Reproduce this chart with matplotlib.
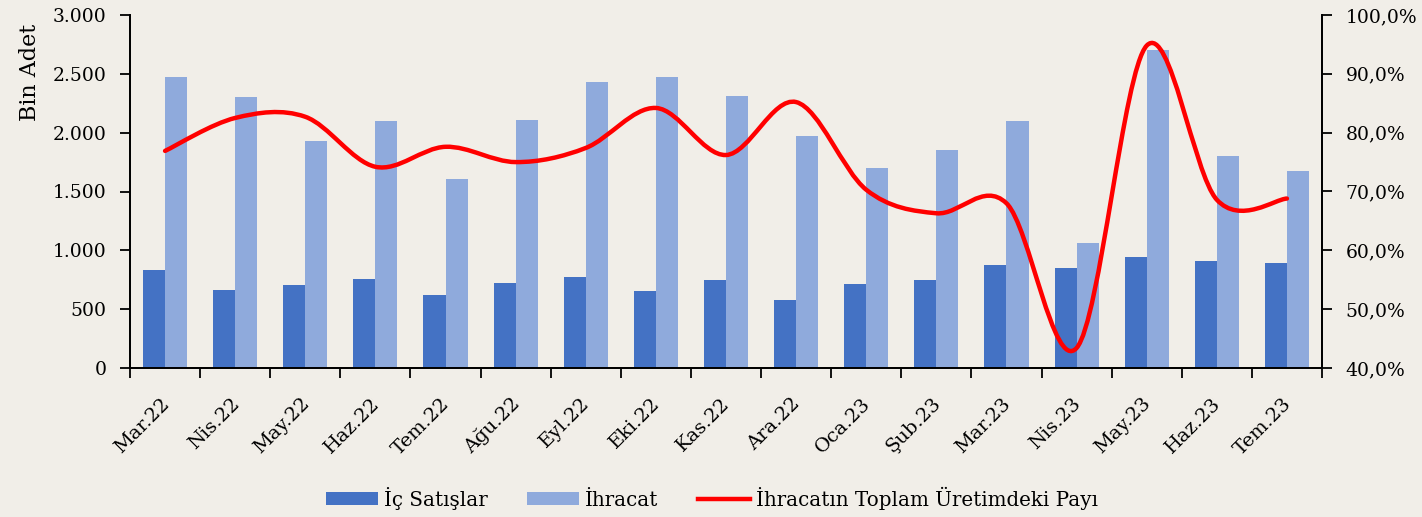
import matplotlib
matplotlib.use("Agg")
import matplotlib.pyplot as plt
import numpy as np
from matplotlib.path import Path
from matplotlib.patches import PathPatch, Patch
from matplotlib.lines import Line2D
from matplotlib.ticker import FuncFormatter, FixedLocator
from matplotlib.transforms import ScaledTranslation

months = ["Mar.22", "Nis.22", "May.22", "Haz.22", "Tem.22", "Ağu.22", "Eyl.22", "Eki.22",
          "Kas.22", "Ara.22", "Oca.23", "Şub.23", "Mar.23", "Nis.23", "May.23", "Haz.23", "Tem.23"]
ic_satislar = [830, 660, 705, 760, 620, 720, 770, 655, 750, 580, 714, 750, 878, 848, 943, 907, 890]
ihracat = [2470, 2300, 1925, 2100, 1605, 2105, 2430, 2470, 2315, 1968, 1698, 1853, 2097, 1062, 2705, 1799, 1671]
ihracat_payi = [76.9, 82.5, 82.7, 74.2, 77.6, 75.0, 77.4, 84.2, 76.2, 85.2, 70.3, 66.3, 68.0, 43.4, 94.8, 68.6, 68.8]

BG = "#F1EEE8"
DARK = "#4472C4"
LIGHT = "#8FAADC"
RED = "#FF0000"
FONT = "DejaVu Serif"

fig = plt.figure(figsize=(14.22, 5.17), dpi=100, facecolor=BG)
ax = fig.add_axes([130/1422, 1-368/517, 1192/1422, 353/517])
ax.set_facecolor(BG)
ax2 = ax.twinx()

x = np.arange(len(months))
w = 0.315
ax.bar(x - w/2, ic_satislar, width=w, color=DARK, zorder=2)
ax.bar(x + w/2, ihracat, width=w, color=LIGHT, zorder=2)

ax.set_xlim(-0.5, len(months) - 0.5)
ax.set_ylim(0, 3000)
ax.set_yticks(np.arange(0, 3001, 500))
ax.yaxis.set_major_formatter(FuncFormatter(lambda v, p: f"{int(v):,}".replace(",", ".")))

ax2.set_ylim(40, 100)
ax2.set_yticks(np.arange(40, 101, 10))
ax2.yaxis.set_major_formatter(FuncFormatter(lambda v, p: f"{v:.1f}".replace(".", ",") + "%"))

# smoothed line (Catmull-Rom as cubic Bezier)
pts = np.column_stack([x, ihracat_payi]).astype(float)
verts = [tuple(pts[0])]
codes = [Path.MOVETO]
n = len(pts)
for i in range(n - 1):
    p0 = pts[i - 1] if i > 0 else pts[i]
    p1 = pts[i]
    p2 = pts[i + 1]
    p3 = pts[i + 2] if i + 2 < n else pts[i + 1]
    c1 = p1 + (p2 - p0) / 6.0
    c2 = p2 - (p3 - p1) / 6.0
    verts += [tuple(c1), tuple(c2), tuple(p2)]
    codes += [Path.CURVE4] * 3
path = Path(verts, codes)
ax2.add_patch(PathPatch(path, facecolor="none", edgecolor=RED, lw=3.2, zorder=3,
                        capstyle="round", joinstyle="round"))

# ticks
ax.set_xticks(x)
ax.set_xticklabels(months, rotation=45, ha="right", rotation_mode="anchor",
                   fontsize=14, family=FONT)
ax.tick_params(axis="x", which="major", length=0, pad=19)
offset = ScaledTranslation(-5/100, 0, fig.dpi_scale_trans)
for lab in ax.get_xticklabels():
    lab.set_transform(lab.get_transform() + offset)
ax.xaxis.set_minor_locator(FixedLocator(np.arange(-0.5, len(months) + 0.5, 1)))
ax.tick_params(axis="x", which="minor", length=7, width=1.3, direction="out", color="black")
ax.tick_params(axis="y", length=7, width=1.3, direction="out", labelsize=13.5, pad=10)
ax2.tick_params(axis="y", length=7, width=1.3, direction="out", labelsize=13.5, pad=10)
for lab in ax.get_yticklabels() + ax2.get_yticklabels():
    lab.set_family(FONT)

for a in (ax, ax2):
    a.spines["top"].set_visible(False)
    for s in ("left", "right", "bottom"):
        a.spines[s].set_linewidth(1.3)
        a.spines[s].set_color("black")

fig.text(30/1422, 1-72/517, "Bin Adet", rotation=90, ha="center", va="center",
         fontsize=16, family=FONT)

handles = [Patch(facecolor=DARK, label="İç Satışlar"),
           Patch(facecolor=LIGHT, label="İhracat"),
           Line2D([0], [0], color=RED, lw=3.2, label="İhracatın Toplam Üretimdeki Payı")]
leg = fig.legend(handles=handles, loc="center", bbox_to_anchor=(712/1422, 1-498/517),
                 ncol=3, frameon=False, prop={"family": FONT, "size": 14.3},
                 handlelength=2.6, handleheight=0.65, handletextpad=0.3, columnspacing=2.0)

fig.savefig("out.png", dpi=100, facecolor=BG)
